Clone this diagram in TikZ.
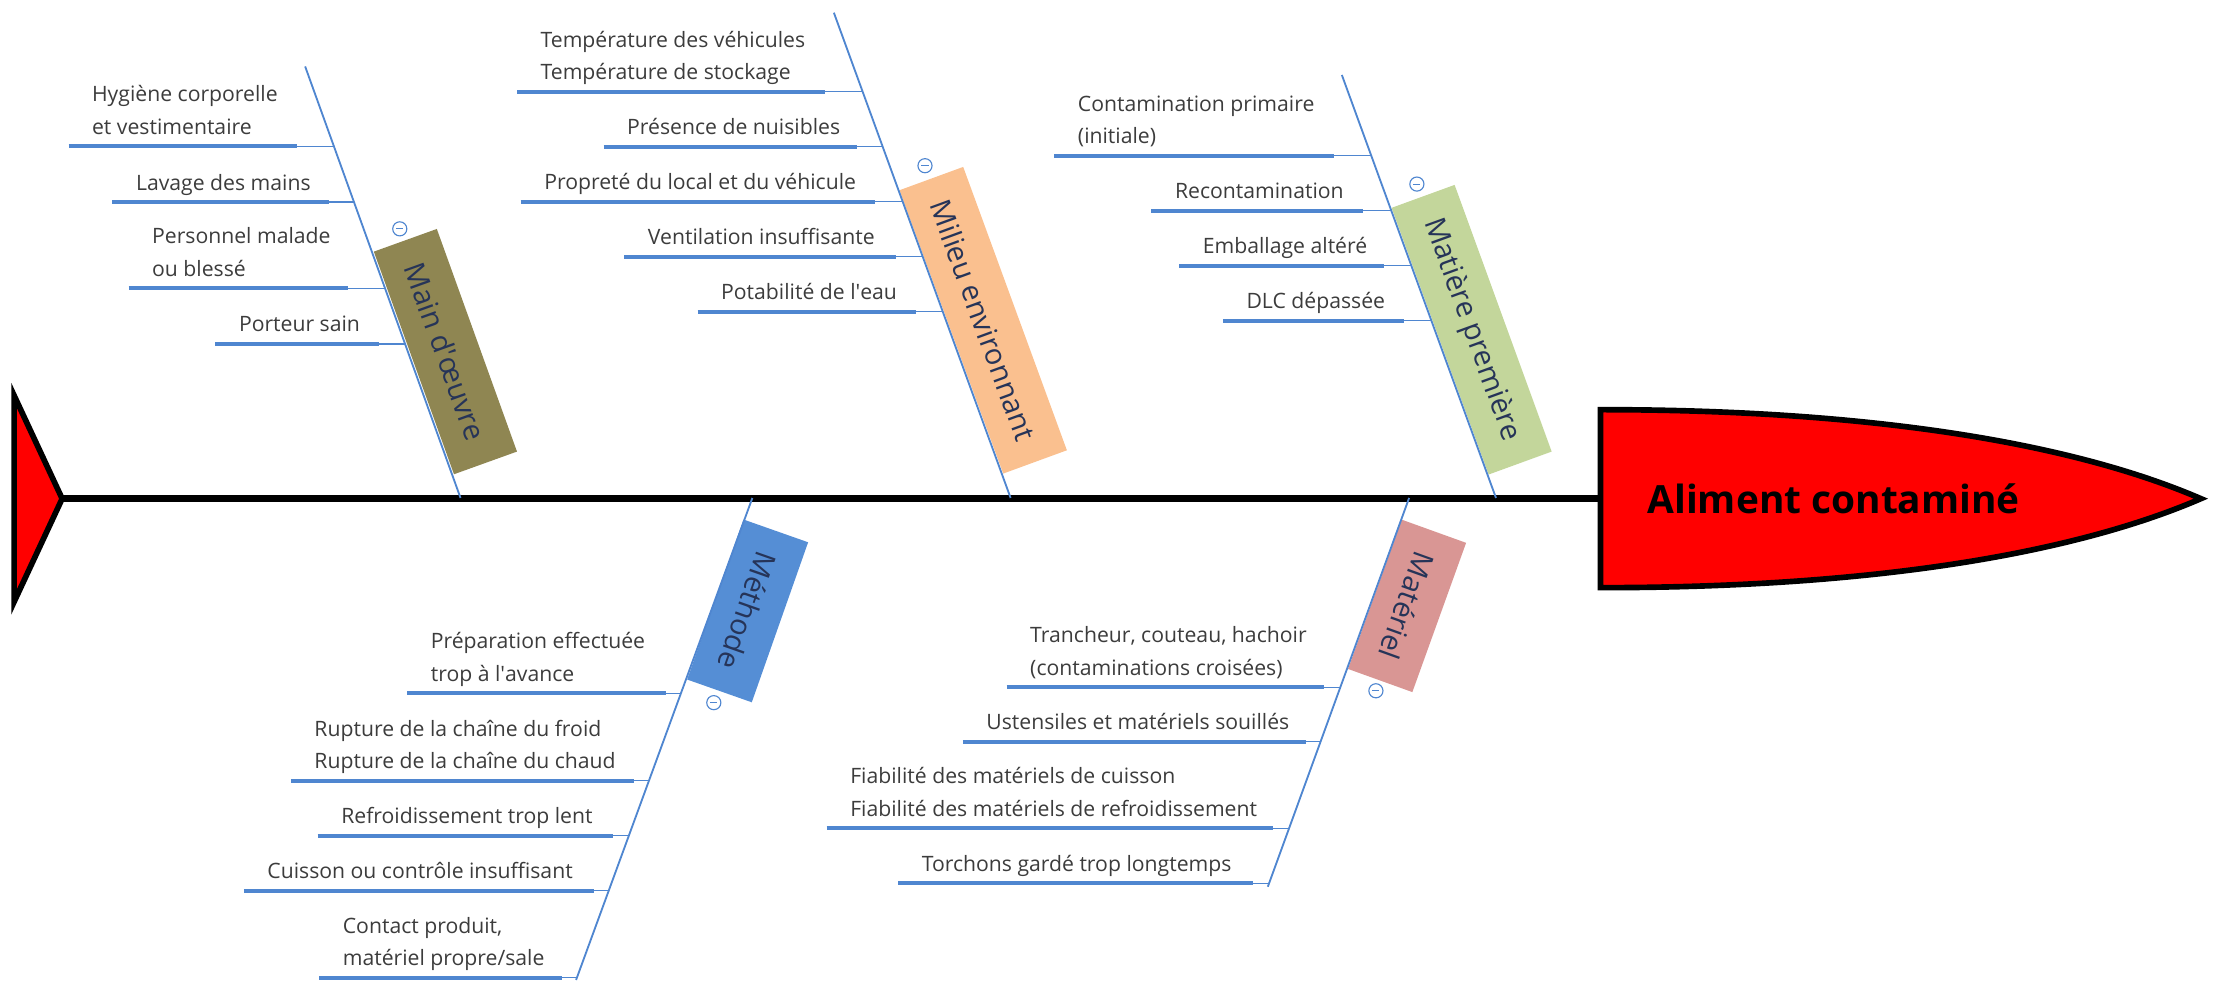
\documentclass[tikz,border=0pt]{standalone}
\usepackage{fontspec}
\setmainfont{Open Sans}
\usetikzlibrary{calc}
\definecolor{bone}{RGB}{79,134,208}
\definecolor{txt}{RGB}{60,60,60}
\definecolor{cattxt}{RGB}{38,52,88}
\definecolor{olive}{RGB}{143,134,82}
\definecolor{peach}{RGB}{250,192,143}
\definecolor{lgreen}{RGB}{195,214,155}
\definecolor{mblue}{RGB}{85,142,213}
\definecolor{dpink}{RGB}{217,150,148}
\definecolor{headred}{RGB}{255,0,0}
\tikzset{
  bonel/.style={draw=bone, line width=1.3pt},
  uline/.style={draw=bone, line width=2.8pt},
  tline/.style={draw=bone, line width=0.9pt},
  ctext/.style={text=txt, font=\fontsize{15}{23}\selectfont, align=left, inner sep=0pt, anchor=base west},
  catbox/.style={draw=none, inner sep=0pt, text=cattxt, font=\fontsize{20.5}{24}\selectfont},
  minus/.style={circle, draw=bone, line width=0.8pt, minimum size=10pt, inner sep=0pt,
    path picture={\draw[bone, line width=0.8pt] ([xshift=-2.5pt]path picture bounding box.center) -- ([xshift=2.5pt]path picture bounding box.center);}},
}
% #1 name, #2 left of underline, #3 right of thick underline, #4 underline y, #5 bone x, #6 text
% (the base anchor of a multi-line node is the baseline of its last line)
\newcommand\fbcause[6]{%
  \node[ctext] (#1) at ({#2+16.5},{#4-8.5}) {#6};
  \draw[uline] (#2,#4) -- (#3,#4);
  \draw[tline] (#3,#4) -- (#5,#4);
}
\begin{document}
\begin{tikzpicture}[x=1pt,y=-1pt]
\useasboundingbox (0,0) rectangle (1568,699);

% spine
\coordinate (tailtip) at (44,353);
\coordinate (headL) at (1133,353);
\draw[line width=5pt] (tailtip) -- (headL);

% tail
\draw[line width=4pt, fill=headred, line join=miter] (10,280) -- (tailtip) -- (10,426) -- cycle;

% head
\draw[line width=4pt, fill=headred, line join=miter]
  (1133,290) -- (1133,416) .. controls (1330,416) and (1470,391) .. (1558,353)
  .. controls (1470,315) and (1330,290) .. (1133,290) -- cycle;
\node[anchor=base west, inner sep=0pt, font=\fontsize{27.5}{30}\selectfont\bfseries] (head) at (1166,363.4) {Aliment contaminé};

% category boxes
\node[catbox, fill=olive, minimum width=167.5pt, minimum height=47.4pt, rotate=-70.2] (mo) at (315.3,248.9) {Main d\textquotesingle œuvre};
\node[catbox, fill=peach, minimum width=213.6pt, minimum height=48pt, rotate=-69.9] (me) at (696,226.7) {Milieu environnant};
\node[catbox, fill=lgreen, minimum width=200.9pt, minimum height=47.5pt, rotate=-70] (mp) at (1041.75,233.4) {Matière première};
\node[catbox, fill=mblue, minimum width=120.1pt, minimum height=48.5pt, rotate=-109.4] (mt) at (529.25,432.45) {Méthode};
\node[catbox, fill=dpink, minimum width=112.3pt, minimum height=48.4pt, rotate=-109.8] (ma) at (996.05,428.9) {Matériel};

% bones
\coordinate (b1t) at (216,47);    \coordinate (b1b) at (326,352.5);
\coordinate (b2t) at (590.3,9);   \coordinate (b2b) at (715.4,352.5);
\coordinate (b3t) at (949.9,53.1);\coordinate (b3b) at (1059,352.5);
\coordinate (b4t) at (532.6,352.5);\coordinate (b4b) at (407.8,693.7);
\coordinate (b5t) at (997.5,352.5);\coordinate (b5b) at (897.5,627.7);
\draw[bonel] (b1t) -- (b1b);
\draw[bonel] (b2t) -- (b2b);
\draw[bonel] (b3t) -- (b3b);
\draw[bonel] (b4t) -- (b4b);
\draw[bonel] (b5t) -- (b5b);

% minus markers
\node[minus] (m1) at (283,162) {};
\node[minus] (m2) at (654.8,117.3) {};
\node[minus] (m3) at (1003,130.3) {};
\node[minus] (m4) at (505.3,497.4) {};
\node[minus] (m5) at (974,489) {};

% Main d'oeuvre
\fbcause{c1a}{48.5}{209.9}{103.5}{236.3}{Hygiène corporelle\\et vestimentaire}
\fbcause{c1b}{79.6}{232.6}{143}{250.6}{Lavage des mains}
\fbcause{c1c}{91}{246.5}{204}{272.5}{Personnel malade\\ou blessé}
\fbcause{c1d}{152.5}{268}{243.5}{286.8}{Porteur sain}

% Milieu environnant
\fbcause{c2a}{366}{584}{64.9}{610.7}{Température des véhicules\\Température de stockage}
\fbcause{c2b}{427.3}{606.7}{103.8}{624.8}{Présence de nuisibles}
\fbcause{c2c}{368.6}{619.4}{142.8}{639}{Propreté du local et du véhicule}
\fbcause{c2d}{442}{634}{181.7}{653.2}{Ventilation insuffisante}
\fbcause{c2e}{493.8}{648.5}{220.6}{667.3}{Potabilité de l\textquotesingle eau}

% Matiere premiere
\fbcause{c3a}{746.4}{944}{110.2}{970.7}{Contamination primaire\\(initiale)}
\fbcause{c3b}{815.1}{965}{149.1}{984.9}{Recontamination}
\fbcause{c3c}{834.8}{979.5}{188.1}{999.1}{Emballage altéré}
\fbcause{c3d}{865.7}{993.6}{227}{1013.3}{DLC dépassée}

% Methode
\fbcause{c4a}{288.3}{471.2}{490.8}{482}{Préparation effectuée\\trop à l\textquotesingle avance}
\fbcause{c4b}{205.9}{449}{552.7}{459.4}{Rupture de la chaîne du froid\\Rupture de la chaîne du chaud}
\fbcause{c4c}{224.9}{434}{591.6}{445.1}{Refroidissement trop lent}
\fbcause{c4d}{172.6}{420.5}{630.5}{430.9}{Cuisson ou contrôle insuffisant}
\fbcause{c4e}{226}{397.5}{692.1}{408.4}{Contact produit,\\matériel propre/sale}

% Materiel
\fbcause{c5a}{712.6}{937.6}{486.6}{948.8}{Trancheur, couteau, hachoir\\(contaminations croisées)}
\fbcause{c5b}{681.6}{924.3}{525}{934.8}{Ustensiles et matériels souillés}
\fbcause{c5c}{585.2}{901.2}{586.4}{912.5}{Fiabilité des matériels de cuisson\\Fiabilité des matériels de refroidissement}
\fbcause{c5d}{635.8}{887}{625.3}{898.4}{Torchons gardé trop longtemps}
\end{tikzpicture}
\end{document}
